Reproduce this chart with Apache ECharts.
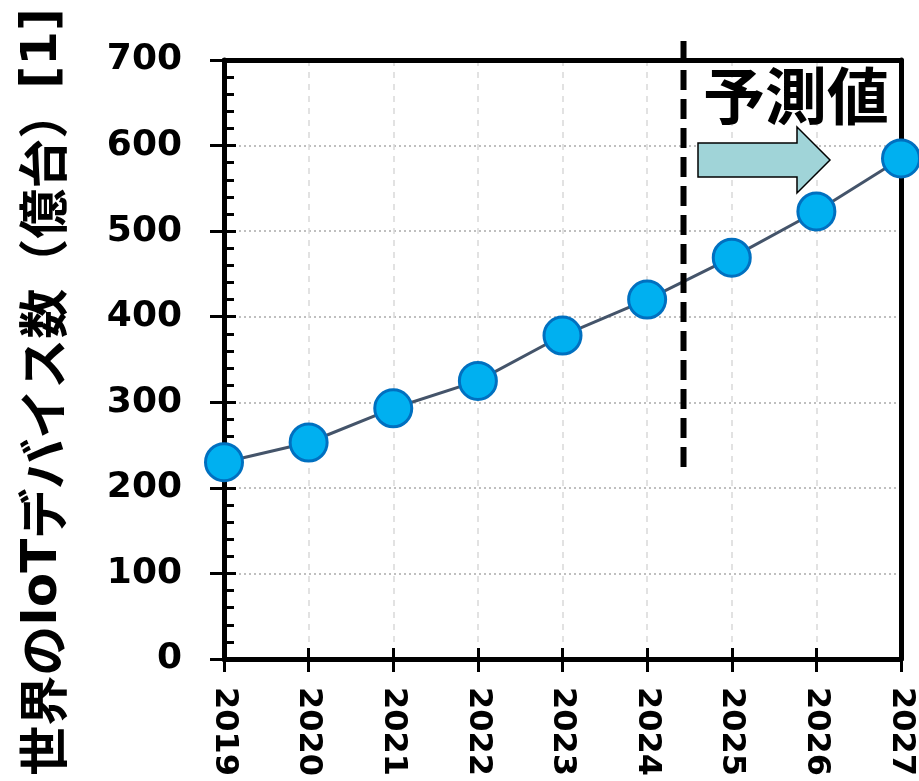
<!DOCTYPE html>
<html>
<head>
<meta charset="utf-8">
<script src="https://cdn.jsdelivr.net/npm/echarts@6/dist/echarts.min.js"></script>
<style>
  html, body { margin: 0; padding: 0; background: #fff; }
  #chart { width: 919px; height: 781px; }
</style>
</head>
<body>
<div id="chart"></div>
<script>
// 世界のIoTデバイス数の推移（2025年以降は予測値）
const years = ['2019', '2020', '2021', '2022', '2023', '2024', '2025', '2026', '2027'];
const devices = [230, 253, 293, 325, 378, 420, 469, 523, 585];   // 億台
const yTicks = [0, 100, 200, 300, 400, 500, 600, 700];
const yTitle = '世界の{latin|IoT}デバイス数（億台）{latin|[1]}';
const forecastLabel = '予測値';

const numFont = '"DejaVu Sans", "Liberation Sans", sans-serif';
const cjkFont = '"Noto Sans CJK JP", "Noto Sans", sans-serif';

const chart = echarts.init(document.getElementById('chart'), null, { renderer: 'canvas' });

const yMin = yTicks[0];
const yMax = yTicks[yTicks.length - 1];
const yStep = yTicks[1] - yTicks[0];

// 枠線だけを描く軸（上辺・右辺）
const frameAxis = {
  axisLine: { show: true, onZero: false, lineStyle: { color: '#000', width: 5 } },
  axisTick: { show: false },
  axisLabel: { show: false },
  splitLine: { show: false }
};

chart.setOption({
  animation: false,
  backgroundColor: '#fff',
  grid: {
    left: 224, right: 18, top: 60, bottom: 122,
    containLabel: false,
    outerBoundsMode: 'none'
  },
  xAxis: [
    {
      type: 'category',
      data: years,
      boundaryGap: false,
      position: 'bottom',
      z: 3,
      axisLine: { show: true, onZero: false, lineStyle: { color: '#000', width: 5 } },
      axisTick: { show: true, inside: true, length: 11, lineStyle: { color: '#000', width: 3 } },
      axisLabel: {
        rotate: -90, margin: 28,
        color: '#000', fontFamily: numFont, fontWeight: 'bold', fontSize: 32
      },
      splitLine: { show: true, lineStyle: { color: '#d9d9d9', width: 1.5, type: [6, 6] } }
    },
    {
      // 目盛線を軸の外側にも伸ばすための重ね軸
      type: 'category',
      data: years,
      boundaryGap: false,
      position: 'bottom',
      offset: 0,
      z: 3,
      axisLine: { show: false, onZero: false },
      axisTick: { show: true, inside: false, length: 13, lineStyle: { color: '#000', width: 3 } },
      axisLabel: { show: false },
      splitLine: { show: false }
    },
    Object.assign({ type: 'category', data: years, boundaryGap: false, position: 'top', z: 3 }, frameAxis)
  ],
  yAxis: [
    {
      type: 'value',
      min: yMin, max: yMax, interval: yStep,
      position: 'left',
      z: 3,
      axisLine: { show: true, onZero: false, lineStyle: { color: '#000', width: 5 } },
      axisTick: { show: true, inside: true, length: 12, lineStyle: { color: '#000', width: 3 } },
      minorTick: { show: true, splitNumber: 5, length: 10, lineStyle: { color: '#000', width: 3 } },
      axisLabel: {
        margin: 42,
        color: '#000', fontFamily: numFont, fontWeight: 'bold', fontSize: 36
      },
      splitLine: { show: true, lineStyle: { color: '#bfbfbf', width: 2, type: [2, 3] } }
    },
    {
      type: 'value',
      min: yMin, max: yMax, interval: yStep,
      position: 'left',
      offset: 0,
      z: 3,
      axisLine: { show: false },
      axisTick: { show: true, inside: false, length: 14, lineStyle: { color: '#000', width: 3 } },
      axisLabel: { show: false },
      splitLine: { show: false }
    },
    Object.assign({ type: 'value', min: yMin, max: yMax, interval: yStep, position: 'right', offset: 0, z: 3 }, frameAxis)
  ],
  series: [
    {
      type: 'line',
      data: devices,
      xAxisIndex: 0,
      yAxisIndex: 0,
      symbol: 'circle',
      symbolSize: 37,
      clip: false,
      z: 5,
      lineStyle: { color: '#44546a', width: 3 },
      itemStyle: { color: '#00b0f0', borderColor: '#0070c0', borderWidth: 3 }
    }
  ]
});

// 実績と予測の境界（2024年と2025年の間）
const x2024 = chart.convertToPixel({ xAxisIndex: 0 }, years[5]);
const x2025 = chart.convertToPixel({ xAxisIndex: 0 }, years[6]);
const xSplit = x2024 + (x2025 - x2024) * 0.43;

chart.setOption({
  graphic: [
    {
      // 縦軸タイトル
      type: 'text',
      z: 10,
      x: 43, y: 392,
      rotation: Math.PI / 2,
      style: {
        text: yTitle,
        fill: '#000',
        font: 'bold 50px ' + cjkFont,
        align: 'center',
        verticalAlign: 'middle',
        rich: {
          latin: { fill: '#000', font: 'bold 50px ' + numFont }
        }
      }
    },
    {
      type: 'line',
      z: 10,
      shape: { x1: xSplit, y1: 41, x2: xSplit, y2: 470 },
      style: { stroke: '#000', lineWidth: 6, lineDash: [20, 9] }
    },
    {
      type: 'text',
      z: 10,
      x: 796, y: 96,
      style: {
        text: forecastLabel,
        fill: '#000',
        font: 'bold 62px ' + cjkFont,
        align: 'center',
        verticalAlign: 'middle'
      }
    },
    {
      type: 'polygon',
      z: 10,
      shape: {
        points: [[698, 143], [797, 143], [797, 127], [830, 160], [797, 193], [797, 177], [698, 177]]
      },
      style: { fill: '#a0d4d8', stroke: '#000', lineWidth: 1.5 }
    }
  ]
});
</script>
</body>
</html>
